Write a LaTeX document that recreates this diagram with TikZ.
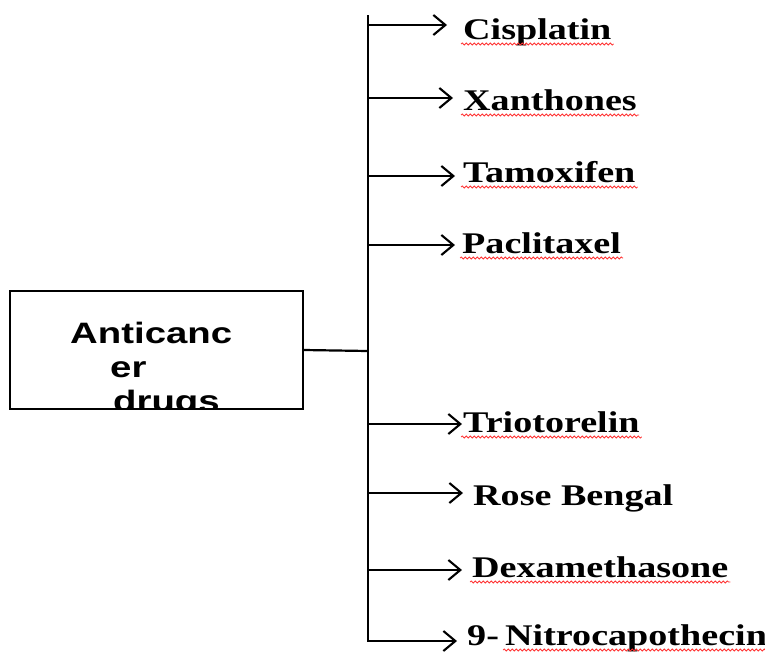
\documentclass[tikz,border=0pt]{standalone}
\usepackage{fontspec}
\setmainfont{Liberation Serif}
\newfontfamily\arialfont{Liberation Sans}
\usetikzlibrary{arrows.meta,decorations.pathmorphing,calc}

\newcommand{\drugname}[1]{\scalebox{1.27}[1]{\bfseries #1}}
\newcommand{\boxword}[1]{\scalebox{1.3}[1]{\arialfont\bfseries #1}}

\tikzset{
  drug/.style={anchor=base west,inner sep=0pt,font=\fontsize{30}{36}\selectfont},
  boxtext/.style={anchor=base west,inner sep=0pt,font=\fontsize{29.5}{35}\selectfont},
  trunk/.style={line width=2.2pt},
  branch/.style={line width=2.1pt,-{Straight Barb[length=12pt,width=20pt]}},
  spell/.style={red!80!white,line width=0.8pt,decorate,
                decoration={snake,segment length=4pt,amplitude=1pt}},
}

\begin{document}
\begin{tikzpicture}[x=1pt,y=-1pt]
  \useasboundingbox (0,0) rectangle (765,654);
  %% Class box text, cut off by the box bottom
  \begin{scope}
    \clip (11,292) rectangle (302,408);
    \node[boxtext] (w1) at (70,343) {\boxword{Anticanc}};
    \node[boxtext] (w2) at (110,377) {\boxword{er}};
    \node[boxtext] (w3) at (113,411) {\boxword{drugs}};
  \end{scope}
  \node[draw,line width=2.2pt,minimum width=293pt,minimum height=118pt,
        inner sep=0pt] (cls) at (156.5,350) {};
  %% Drug labels
  \node[drug] (d1) at (463,39) {\drugname{Cisplatin}};
  \node[drug] (d2) at (463,110) {\drugname{Xanthones}};
  \node[drug] (d3) at (463,182) {\drugname{Tamoxifen}};
  \node[drug] (d4) at (462,253) {\drugname{Paclitaxel}};
  \node[drug] (d5) at (463,432) {\drugname{Triotorelin}};
  \node[drug] (d6) at (473,505) {\drugname{Rose Bengal}};
  \node[drug] (d7) at (472,577) {\drugname{Dexamethasone}};
  \node[drug] (d8a) at (467,645) {\drugname{9-}};
  \node[drug] (d8) at (505,645) {\drugname{Nitrocapothecin}};
  %% Trunk and link from the box
  \coordinate (top) at (368,15);
  \coordinate (hub) at (368,351);
  \coordinate (bot) at (368,641);
  \draw[trunk] (cls.east) -- (hub);
  \draw[branch,shorten >=10pt] (top) -- (bot) -- (bot -| d8a.west);
  %% Branch arrows
  \foreach \i/\y/\g in {1/25/16, 2/98/10, 3/176/8, 4/245/7,
                        5/424/1, 6/493/10, 7/570/10}
  {
    \coordinate (b\i) at (368,\y);
    \draw[branch,shorten >=\g pt] (b\i) -- (b\i -| d\i.west);
  }
  %% Spell-check underlines
  \foreach \i in {1,2,3,4,5,7,8}
    \draw[spell] ($(d\i.base west)+(-2,5)$) -- ($(d\i.base east)+(2,5)$);
\end{tikzpicture}
\end{document}
